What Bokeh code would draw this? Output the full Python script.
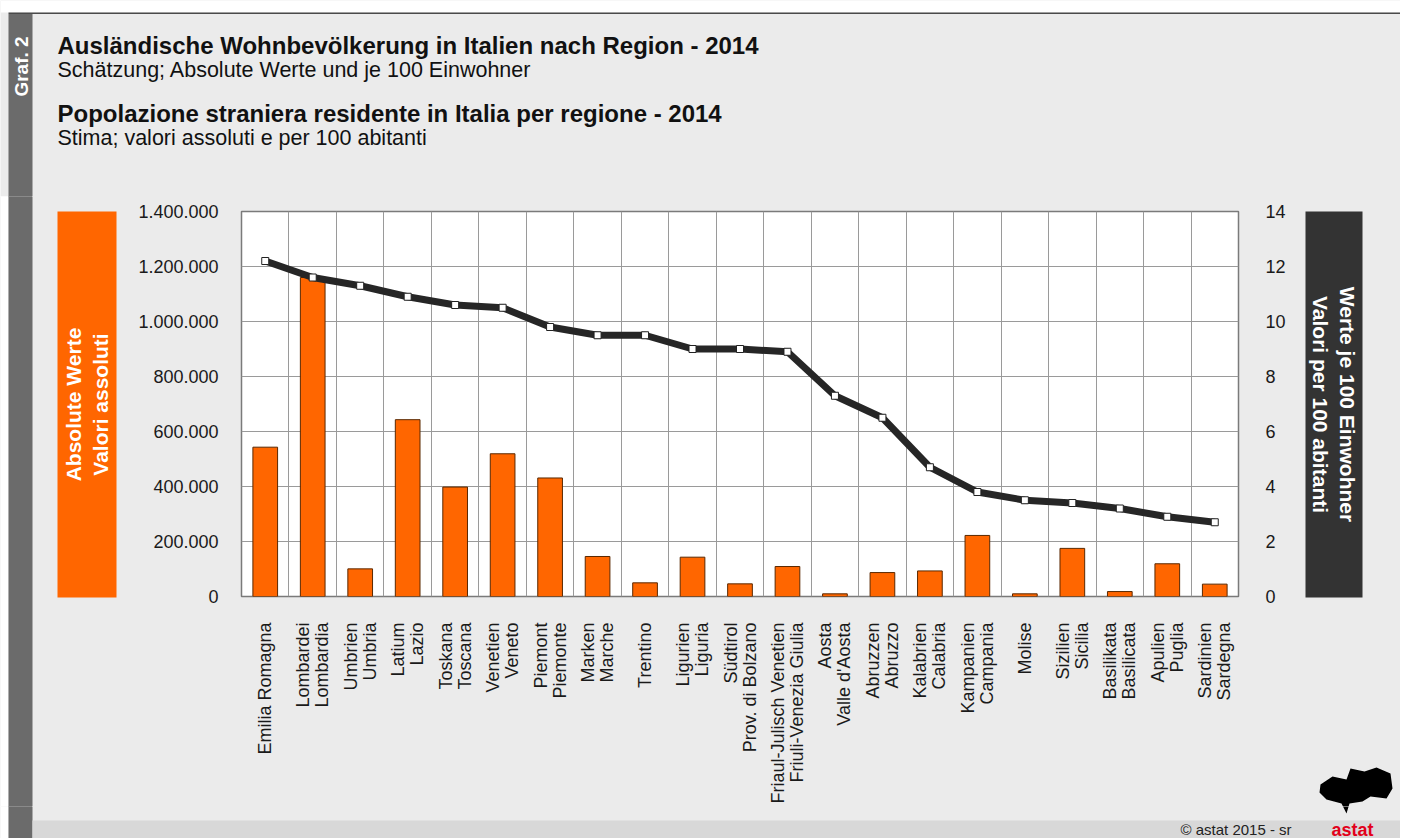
from math import pi
from bokeh.plotting import figure
from bokeh.layouts import column, row
from bokeh.models import Range1d, LinearAxis, FixedTicker, ColumnDataSource
from bokeh.core.properties import value
from bokeh.embed import file_html
from bokeh.resources import INLINE

# ---------------- data ----------------
regions = ["Emilia Romagna", "Lombardei\nLombardia", "Umbrien\nUmbria", "Latium\nLazio",
           "Toskana\nToscana", "Venetien\nVeneto", "Piemont\nPiemonte", "Marken\nMarche",
           "Trentino", "Ligurien\nLiguria", "Südtirol\nProv. di Bolzano",
           "Friaul-Julisch Venetien\nFriuli-Venezia Giulia", "Aosta\nValle d'Aosta",
           "Abruzzen\nAbruzzo", "Kalabrien\nCalabria", "Kampanien\nCampania", "Molise",
           "Sizilien\nSicilia", "Basilikata\nBasilicata", "Apulien\nPuglia",
           "Sardinien\nSardegna"]
absolute = [543000, 1160000, 100500, 643000, 398000, 519000, 431000, 145500, 49700,
            143000, 46000, 109000, 9700, 87000, 93000, 222000, 9700, 175000, 18000,
            119000, 45000]
per100 = [12.2, 11.6, 11.3, 10.9, 10.6, 10.5, 9.8, 9.5, 9.5, 9.0, 9.0, 8.9, 7.3, 6.5,
          4.7, 3.8, 3.5, 3.4, 3.2, 2.9, 2.7]
left_ticks = [0, 200000, 400000, 600000, 800000, 1000000, 1200000, 1400000]
left_tick_labels = ["0", "200.000", "400.000", "600.000", "800.000", "1.000.000",
                    "1.200.000", "1.400.000"]
right_ticks = [0, 2, 4, 6, 8, 10, 12, 14]

title_de = "Ausländische Wohnbevölkerung in Italien nach Region - 2014"
sub_de = "Schätzung; Absolute Werte und je 100 Einwohner"
title_it = "Popolazione straniera residente in Italia per regione - 2014"
sub_it = "Stima; valori assoluti e per 100 abitanti"
left_box_text = "Absolute Werte\nValori assoluti"
right_box_text = "Werte je 100 Einwohner\nValori per 100 abitanti"
footer_text = "©  astat 2015 - sr"
logo_text = "astat"

FONT = "Liberation Sans"
ORANGE = "#ff6600"
DARK = "#333333"
BG = "#ebebeb"
STRIP = "#6b6b6b"
FOOT = "#d8d8d8"

# ---------------- page geometry (pixels from top-left) ----------------
PW, PH = 1400, 838
TOP_Y = 196          # bottom of header
MID_Y = 806          # bottom of middle row
MAIN_X0, MAIN_X1 = 125, 1290
FRAME_L, FRAME_R, FRAME_T, FRAME_B = 241, 1238, 211, 596

logo_x = [1320, 1332, 1346, 1350, 1364, 1376, 1390, 1392, 1386, 1370, 1362, 1349,
          1346, 1341, 1326, 1319]
logo_y = [784, 776, 779, 768, 771, 767, 773, 788, 798, 796, 801, 803, 813, 803, 799, 792]

CSS = {"background-color": BG}
CSS_STRIP = {"background": "linear-gradient(to right, white 0px, white 8px, "
             f"{STRIP} 8px, {STRIP} 32px, {BG} 32px, {BG} 100%)"}


def deco(x0, x1, y0, y1, styles=CSS):
    f = figure(width=x1 - x0, height=y1 - y0, x_range=Range1d(x0, x1),
               y_range=Range1d(y1, y0), output_backend="svg", toolbar_location=None,
               min_border=0, x_axis_type=None, y_axis_type=None, title=None,
               styles=styles)
    f.frame_align = False
    f.outline_line_color = None
    f.background_fill_color = BG
    f.border_fill_color = BG
    return f


def rect(f, x0, x1, y0, y1, color):
    f.quad(left=[x0], right=[x1], top=[y0], bottom=[y1], fill_color=color,
           line_color=None)


def txt(f, x, y, t, size, bold=False, color="#111111", angle=0, align="left",
        baseline="alphabetic"):
    f.text(x=[x], y=[y], text=[t], text_font=value(FONT), text_font_size=size,
           text_font_style="bold" if bold else "normal", text_color=color,
           angle=angle, text_align=align, text_baseline=baseline,
           text_line_height=1.15)


# ---------------- header ----------------
hdr = deco(0, PW, 0, TOP_Y, styles={"background-color": "white"})
rect(hdr, 0, PW, 0, 12, "white")
rect(hdr, 8, PW, 12, 13.5, "#4a4a4a")
rect(hdr, 8, 32, 13.5, TOP_Y + 1, STRIP)
txt(hdr, 20.5, 66, "Graf. 2", "19px", bold=True, color="white", angle=pi / 2,
    align="center", baseline="middle")
txt(hdr, 57, 45, title_de, "24px", bold=True)
txt(hdr, 57, 69, sub_de, "21.5px")
txt(hdr, 57, 113, title_it, "24px", bold=True)
txt(hdr, 57, 137, sub_it, "21.5px")

# ---------------- left decoration ----------------
lft = deco(0, MAIN_X0, TOP_Y, MID_Y, styles=CSS_STRIP)
rect(lft, 0, 8, TOP_Y - 1, MID_Y + 1, "white")
rect(lft, 8, 32, TOP_Y - 1, MID_Y + 1, STRIP)
rect(lft, 57, 116, FRAME_T, FRAME_B + 1, ORANGE)
txt(lft, 86.5, 404, left_box_text, "21px", bold=True, color="white", angle=pi / 2,
    align="center", baseline="middle")

# ---------------- right decoration ----------------
rgt = deco(MAIN_X1, PW, TOP_Y, MID_Y)
rect(rgt, 1305, 1362, FRAME_T, FRAME_B + 1, DARK)
txt(rgt, 1333.5, 404, right_box_text, "21px", bold=True, color="white",
    angle=-pi / 2, align="center", baseline="middle")
rgt.patch(logo_x, logo_y, fill_color="black", line_color=None)

# ---------------- footer ----------------
ftr = deco(0, PW, MID_Y, PH, styles=CSS_STRIP)
rect(ftr, 0, 8, MID_Y - 1, PH, "white")
rect(ftr, 8, 32, MID_Y - 1, PH, STRIP)
rect(ftr, 32, PW, 820, PH, FOOT)
ftr.patch(logo_x, logo_y, fill_color="black", line_color=None)
txt(ftr, 1180, 829, footer_text, "15px", color="#222222")
txt(ftr, 1331, 829, logo_text, "18px", bold=True, color="#e2001a")

# ---------------- main chart ----------------
n = len(regions)
centers = [i + 0.5 for i in range(n)]
src = ColumnDataSource(dict(x=centers, absolute=absolute, per100=per100))

p = figure(width=MAIN_X1 - MAIN_X0, height=MID_Y - TOP_Y, x_range=Range1d(0, n),
           y_range=Range1d(0, 1400000), output_backend="svg", toolbar_location=None,
           title=None, styles=CSS,
           min_border_left=FRAME_L - MAIN_X0, min_border_right=MAIN_X1 - FRAME_R,
           min_border_top=FRAME_T - TOP_Y, min_border_bottom=MID_Y - FRAME_B)
p.frame_align = False
p.background_fill_color = "white"
p.border_fill_color = BG
p.outline_line_color = "#7a7a7a"
p.outline_line_width = 1.5
p.extra_y_ranges = {"rate": Range1d(0, 14)}

p.xgrid.ticker = FixedTicker(ticks=list(range(1, n)))
p.xgrid.grid_line_color = "#9a9a9a"
p.ygrid.ticker = FixedTicker(ticks=left_ticks)
p.ygrid.grid_line_color = "#9a9a9a"

p.vbar(x="x", top="absolute", width=0.52, bottom=0, source=src,
       fill_color=ORANGE, line_color="#5a2800", line_width=1)
p.line(x="x", y="per100", source=src, y_range_name="rate", line_width=7,
       line_color="#262626", line_join="round")
p.scatter(x="x", y="per100", source=src, y_range_name="rate", marker="square",
          size=7, fill_color="white", line_color="#222222", line_width=1)

xa = p.xaxis[0]
xa.ticker = FixedTicker(ticks=centers)
xa.major_label_overrides = {c: r for c, r in zip(centers, regions)}
xa.major_label_orientation = pi / 2
xa.major_label_text_font = FONT
xa.major_label_text_font_size = "18px"
xa.major_label_text_color = "#1a1a1a"
xa.major_label_text_line_height = 0.95
xa.major_label_standoff = 20
xa.axis_line_color = None
xa.major_tick_line_color = None
xa.minor_tick_line_color = None

ya = p.yaxis[0]
ya.ticker = FixedTicker(ticks=left_ticks)
ya.major_label_overrides = {t: s for t, s in zip(left_ticks, left_tick_labels)}
ya.major_label_text_font = FONT
ya.major_label_text_font_size = "18px"
ya.major_label_text_color = "#1a1a1a"
ya.major_label_standoff = 17
ya.axis_line_color = None
ya.major_tick_line_color = None
ya.minor_tick_line_color = None

ra = LinearAxis(y_range_name="rate", ticker=FixedTicker(ticks=right_ticks))
ra.major_label_text_font = FONT
ra.major_label_text_font_size = "18px"
ra.major_label_text_color = "#1a1a1a"
ra.major_label_standoff = 21
ra.axis_line_color = None
ra.major_tick_line_color = None
ra.minor_tick_line_color = None
p.add_layout(ra, "right")

mid = row(lft, p, rgt, styles=CSS)
page = column(hdr, mid, ftr, styles=CSS)
open("out.html", "w").write(file_html(page, INLINE))
